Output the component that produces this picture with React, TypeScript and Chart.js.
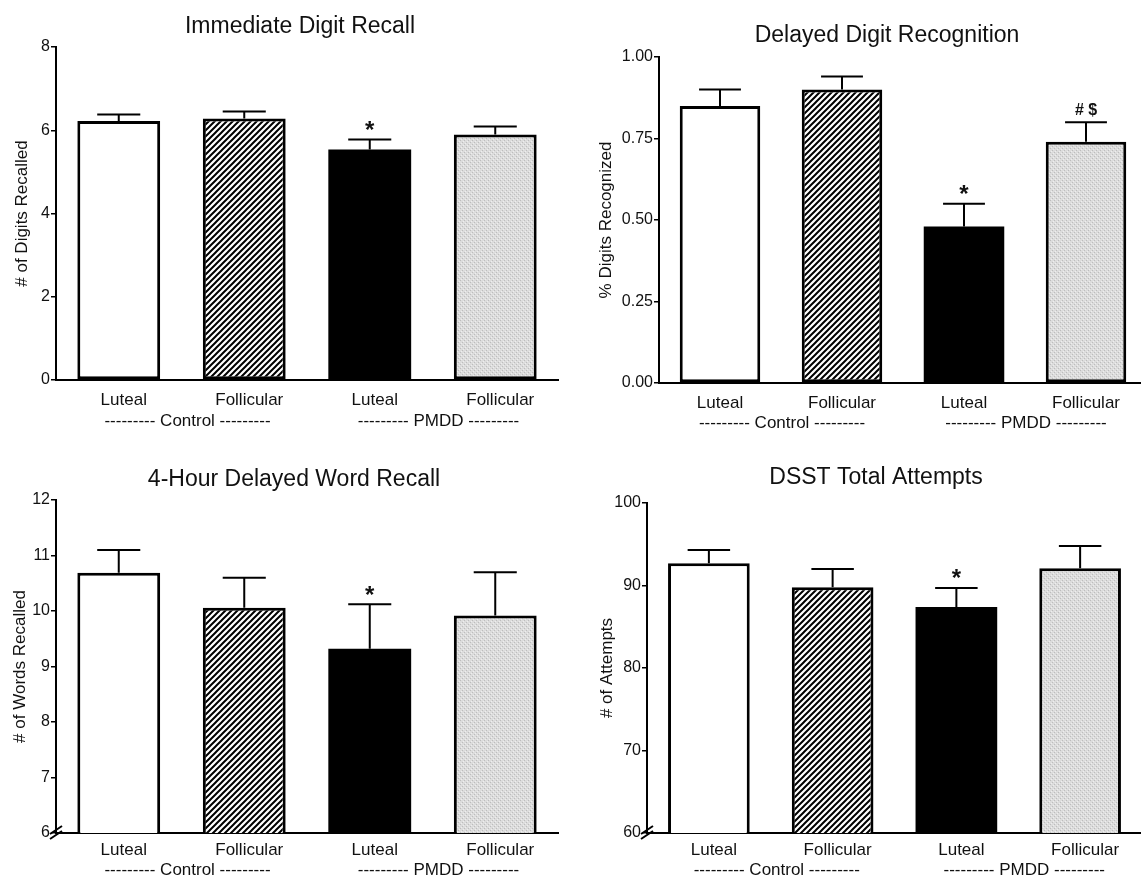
import React, { useEffect, useRef } from 'react';
import { Chart, registerables } from 'chart.js';
Chart.register(...registerables);

// ---------- data ----------
const categories = ['Luteal', 'Follicular', 'Luteal', 'Follicular'];
const groupLabels = ['--------- Control ---------', '--------- PMDD ---------'];

const digitRecallMeans = [6.22, 6.28, 5.54, 5.9];
const digitRecallSEM = [0.16, 0.17, 0.24, 0.19];
const digitRecallMarks = ['', '', '*', ''];

const digitRecogMeans = [0.85, 0.9, 0.48, 0.74];
const digitRecogSEM = [0.05, 0.04, 0.07, 0.06];
const digitRecogMarks = ['', '', '*', '# $'];

const wordRecallMeans = [10.69, 10.06, 9.32, 9.92];
const wordRecallSEM = [0.41, 0.54, 0.8, 0.78];
const wordRecallMarks = ['', '', '*', ''];

const dsstMeans = [92.7, 89.8, 87.4, 92.1];
const dsstSEM = [1.6, 2.2, 2.3, 2.7];
const dsstMarks = ['', '', '*', ''];

// ---------- style ----------
const FONT = "'Liberation Sans', Arial, Helvetica, sans-serif";
const INK = '#111111';

type Panel = {
  key: string;
  title: string;
  yTitle: string;
  means: number[];
  sems: number[];
  marks: string[];
  yMin: number;
  yMax: number;
  yStep: number;
  decimals: number;
  broken: boolean;
  left: number;
  top: number;
  width: number;
  height: number;
  padTop: number;
  padRight: number;
  yWidth: number;
  xHeight: number;
  titleX: number;
  titleBaseline: number;
  yTitlePad: number;
  tickPad: number;
  labelShift: number;
  groupY: number;
};

const panels: Panel[] = [
  {
    key: 'tl', title: 'Immediate Digit Recall', yTitle: '# of Digits Recalled',
    means: digitRecallMeans, sems: digitRecallSEM, marks: digitRecallMarks,
    yMin: 0, yMax: 8, yStep: 2, decimals: 0, broken: false,
    left: 0, top: 0, width: 560, height: 440, padTop: 47, padRight: 2, yWidth: 56, xHeight: 60,
    titleX: 300, titleBaseline: 33, yTitlePad: 11.8, tickPad: 10, labelShift: 5, groupY: 41,
  },
  {
    key: 'tr', title: 'Delayed Digit Recognition', yTitle: '% Digits Recognized',
    means: digitRecogMeans, sems: digitRecogSEM, marks: digitRecogMarks,
    yMin: 0, yMax: 1, yStep: 0.25, decimals: 2, broken: false,
    left: 570, top: 0, width: 577, height: 440, padTop: 57, padRight: 0, yWidth: 89, xHeight: 57,
    titleX: 317, titleBaseline: 41.5, yTitlePad: 25.8, tickPad: 10, labelShift: 0, groupY: 40,
  },
  {
    key: 'bl', title: '4-Hour Delayed Word Recall', yTitle: '# of Words Recalled',
    means: wordRecallMeans, sems: wordRecallSEM, marks: wordRecallMarks,
    yMin: 6, yMax: 12, yStep: 1, decimals: 0, broken: true,
    left: 0, top: 440, width: 560, height: 440, padTop: 60, padRight: 2, yWidth: 56, xHeight: 47,
    titleX: 294, titleBaseline: 45.5, yTitlePad: 9.8, tickPad: 7, labelShift: 5, groupY: 37,
  },
  {
    key: 'br', title: 'DSST Total Attempts', yTitle: '# of Attempts',
    means: dsstMeans, sems: dsstSEM, marks: dsstMarks,
    yMin: 60, yMax: 100, yStep: 10, decimals: 0, broken: true,
    left: 570, top: 440, width: 572, height: 440, padTop: 63, padRight: 0, yWidth: 77, xHeight: 47,
    titleX: 306, titleBaseline: 44, yTitlePad: 26.8, tickPad: 7, labelShift: 5, groupY: 37,
  },
];

function makeHatch(): CanvasPattern | string {
  const c = document.createElement('canvas');
  c.width = 6;
  c.height = 6;
  const g = c.getContext('2d');
  if (!g) return '#888';
  g.fillStyle = '#ffffff';
  g.fillRect(0, 0, 6, 6);
  g.strokeStyle = '#000000';
  g.lineWidth = 2;
  g.beginPath();
  g.moveTo(-1, 7);
  g.lineTo(7, -1);
  g.moveTo(-2, 2);
  g.lineTo(2, -2);
  g.moveTo(4, 8);
  g.lineTo(8, 4);
  g.stroke();
  return g.createPattern(c, 'repeat') || '#888';
}

function makeGrey(): CanvasPattern | string {
  const c = document.createElement('canvas');
  c.width = 4;
  c.height = 4;
  const g = c.getContext('2d');
  if (!g) return '#ddd';
  g.fillStyle = '#dcdcdc';
  g.fillRect(0, 0, 4, 4);
  g.fillStyle = '#bdbdbd';
  g.fillRect(0, 0, 1, 1);
  g.fillRect(2, 2, 1, 1);
  g.fillStyle = '#eeeeee';
  g.fillRect(1, 3, 1, 1);
  g.fillRect(3, 1, 1, 1);
  return g.createPattern(c, 'repeat') || '#ddd';
}

function decorPlugin(p: Panel) {
  return {
    id: 'decor_' + p.key,
    afterDatasetsDraw(chart: any) {
      const ctx = chart.ctx as CanvasRenderingContext2D;
      const meta = chart.getDatasetMeta(0);
      const ys = chart.scales.y;
      ctx.save();
      ctx.strokeStyle = '#000';
      ctx.lineWidth = 2;
      meta.data.forEach((bar: any, i: number) => {
        const v = p.means[i];
        const y0 = ys.getPixelForValue(v);
        const y1 = ys.getPixelForValue(v + p.sems[i]);
        const half = bar.width * 0.26;
        ctx.beginPath();
        ctx.moveTo(bar.x, y0);
        ctx.lineTo(bar.x, y1);
        ctx.moveTo(bar.x - half, y1);
        ctx.lineTo(bar.x + half, y1);
        ctx.stroke();
        const m = p.marks[i];
        if (m) {
          const isStar = m === '*';
          ctx.font = `bold ${isStar ? 24 : 16}px ${FONT}`;
          ctx.fillStyle = INK;
          ctx.textAlign = 'center';
          ctx.textBaseline = 'alphabetic';
          const tm = ctx.measureText(m);
          const cy = y1 - (isStar ? 14 : 12);
          const by = cy + (tm.actualBoundingBoxAscent - tm.actualBoundingBoxDescent) / 2;
          ctx.fillText(m, bar.x, by);
        }
      });
      ctx.restore();
    },
    afterDraw(chart: any) {
      const ctx = chart.ctx as CanvasRenderingContext2D;
      const xs = chart.scales.x;
      const area = chart.chartArea;
      ctx.save();
      // title
      ctx.fillStyle = INK;
      ctx.font = `23px ${FONT}`;
      ctx.textAlign = 'center';
      ctx.textBaseline = 'alphabetic';
      ctx.fillText(p.title, p.titleX, p.titleBaseline);
      // group labels
      ctx.font = `17px ${FONT}`;
      ctx.textBaseline = 'middle';
      for (let g = 0; g < groupLabels.length; g++) {
        const a = xs.getPixelForValue(g * 2);
        const b = xs.getPixelForValue(g * 2 + 1);
        ctx.fillText(groupLabels[g], (a + b) / 2 + p.labelShift + 1, area.bottom + p.groupY);
      }
      // axis break
      if (p.broken) {
        const L = area.left;
        const B = area.bottom;
        ctx.strokeStyle = '#000';
        ctx.lineWidth = 2;
        ctx.beginPath();
        ctx.moveTo(L - 6, B + 1);
        ctx.lineTo(L + 6, B - 7);
        ctx.moveTo(L - 6, B + 6);
        ctx.lineTo(L + 6, B - 2);
        ctx.stroke();
      }
      ctx.restore();
    },
  };
}

export default function App() {
  const refs = useRef<(HTMLCanvasElement | null)[]>([]);

  useEffect(() => {
    const hatch = makeHatch();
    const grey = makeGrey();
    const charts = panels.map((p, idx) => {
      const cv = refs.current[idx] as HTMLCanvasElement;
      return new Chart(cv, {
        type: 'bar',
        data: {
          labels: categories,
          datasets: [
            {
              data: p.means,
              backgroundColor: ['#ffffff', hatch as any, '#000000', grey as any],
              borderColor: '#000000',
              borderWidth: [3, 3, 0, 3],
              borderSkipped: false,
              barPercentage: 0.66,
              categoryPercentage: 1,
            },
          ],
        },
        options: {
          animation: false,
          responsive: false,
          maintainAspectRatio: false,
          devicePixelRatio: 1,
          layout: { padding: { top: p.padTop, right: p.padRight, left: 0, bottom: 0 } },
          plugins: {
            legend: { display: false },
            tooltip: { enabled: false },
            title: { display: false },
          },
          scales: {
            x: {
              type: 'category',
              offset: true,
              grid: { display: false, drawTicks: false },
              border: { display: true, color: '#000', width: 2 },
              ticks: {
                color: INK,
                font: { family: FONT, size: 17 },
                padding: p.tickPad,
                labelOffset: p.labelShift,
                maxRotation: 0,
                autoSkip: false,
              },
              afterFit: (s: any) => {
                s.height = p.xHeight;
              },
            },
            y: {
              min: p.yMin,
              max: p.yMax,
              ticks: {
                stepSize: p.yStep,
                color: INK,
                font: { family: FONT, size: 16 },
                padding: 1,
                callback: (v: any) => Number(v).toFixed(p.decimals),
              },
              grid: { drawOnChartArea: false, drawTicks: true, tickLength: 5, color: '#000', lineWidth: 1.5 },
              border: { display: true, color: '#000', width: 2 },
              title: {
                display: true,
                text: p.yTitle,
                color: INK,
                font: { family: FONT, size: 17 },
                padding: { top: p.yTitlePad, bottom: 0 },
              },
              afterFit: (s: any) => {
                s.width = p.yWidth;
              },
            },
          },
        } as any,
        plugins: [decorPlugin(p)],
      });
    });
    return () => charts.forEach((c) => c.destroy());
  }, []);

  return (
    <div
      style={{
        position: 'fixed',
        left: 0,
        top: 0,
        width: 1141,
        height: 880,
        overflow: 'hidden',
        background: '#ffffff',
      }}
    >
      {panels.map((p, i) => (
        <canvas
          key={p.key}
          ref={(el) => {
            refs.current[i] = el;
          }}
          width={p.width}
          height={p.height}
          style={{ position: 'absolute', left: p.left, top: p.top, width: p.width, height: p.height }}
        />
      ))}
    </div>
  );
}
